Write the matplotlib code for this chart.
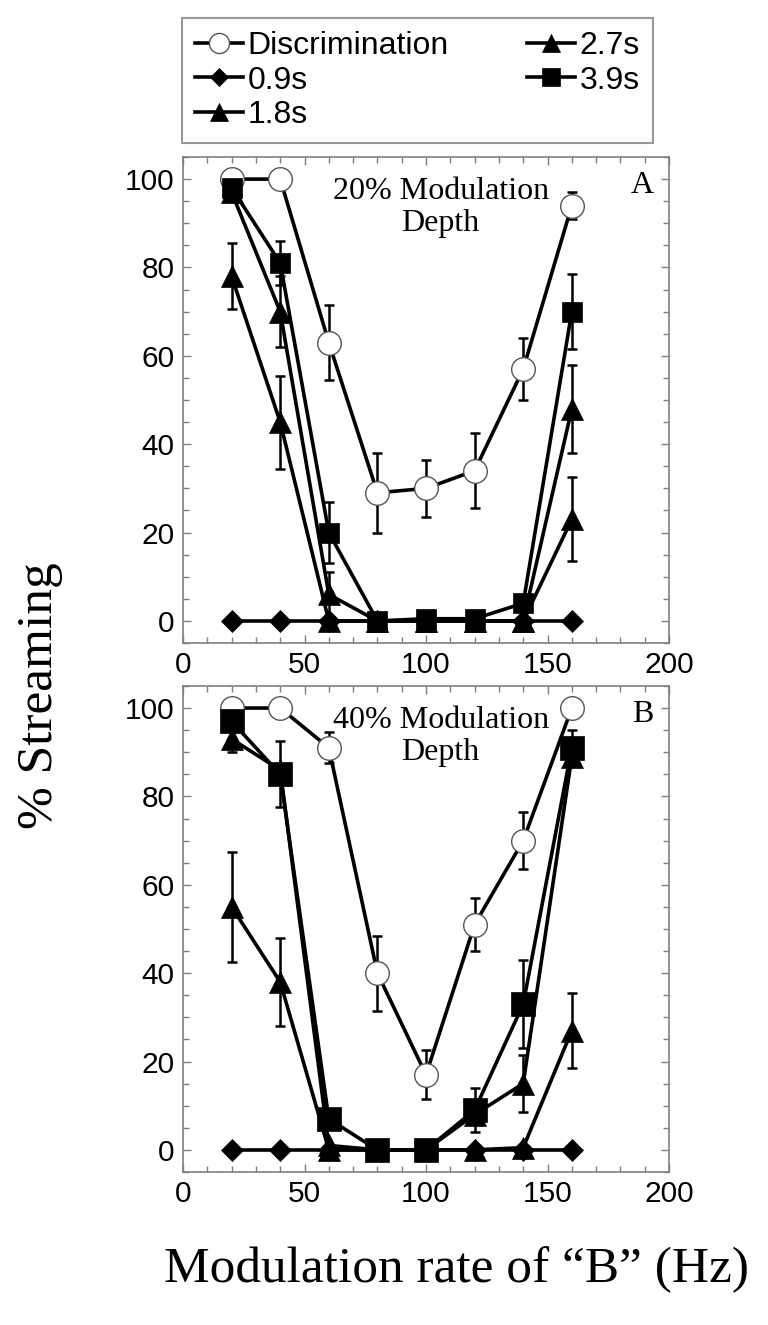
import matplotlib.pyplot as plt
from matplotlib.ticker import MultipleLocator

rates = [20, 40, 60, 80, 100, 120, 140, 160]

# panel A - 20% modulation depth
disc_a = [100, 100, 63, 29, 30, 34, 57, 94]
disc_a_err = [0, 0, 8.5, 9, 6.5, 8.5, 7, 3]
s09_a = [0, 0, 0, 0, 0, 0, 0, 0]
s09_a_err = [0, 0, 0, 0, 0, 0, 0, 0]
s18_a = [78, 45, 0, 0, 0, 0, 0, 23]
s18_a_err = [7.5, 10.5, 0, 0, 0, 0, 0, 9.5]
s27_a = [97, 70, 6, 0, 0, 0, 0, 48]
s27_a_err = [0, 8, 5, 0, 0, 0, 0, 10]
s39_a = [98, 81, 20, 0, 0.5, 0.5, 4, 70]
s39_a_err = [0, 5, 7, 0, 0, 0, 0, 8.5]

# panel B - 40% modulation depth
disc_b = [100, 100, 91, 40, 17, 51, 70, 100]
disc_b_err = [0, 0, 3.5, 8.5, 5.5, 6, 6.5, 0]
s09_b = [0, 0, 0, 0, 0, 0, 0, 0]
s09_b_err = [0, 0, 0, 0, 0, 0, 0, 0]
s18_b = [55, 38, 0, 0, 0, 0, 0.5, 27]
s18_b_err = [12.5, 10, 0, 0, 0, 0, 0, 8.5]
s27_b = [93, 86, 1, 0, 0, 8, 15, 89]
s27_b_err = [3, 0, 0, 0, 0, 0, 6.5, 0]
s39_b = [97, 85, 7, 0, 0, 9, 33, 91]
s39_b_err = [0, 7.5, 0, 0, 0, 5, 10, 4]

labels = ['Discrimination', '0.9s', '1.8s', '2.7s', '3.9s']

SANS = 'Liberation Sans'
SERIF = 'Liberation Serif'
GRAY = '#7f7f7f'

styles = [
    dict(marker='o', ms=17, mfc='white', mec='#555555', mew=1.0),
    dict(marker='D', ms=11, mfc='black', mec='black', mew=0.5),
    dict(marker='^', ms=16, mfc='black', mec='black', mew=0.5),
    dict(marker='^', ms=16, mfc='black', mec='black', mew=0.5),
    dict(marker='s', ms=15, mfc='black', mec='black', mew=0.5),
]

fig = plt.figure(figsize=(7.68, 13.25), dpi=100)
ax_a = fig.add_axes([0.2383, 0.5147, 0.6328, 0.3668])
ax_b = fig.add_axes([0.2383, 0.1155, 0.6328, 0.3668])


def draw_panel(ax, series, depth, tag, sq_size):
    handles = []
    for i, (vals, errs) in enumerate(series):
        st = dict(styles[i])
        if st['marker'] == 's':
            st['ms'] = sq_size
        xs = [x for x, e in zip(rates, errs) if e > 0]
        ys = [v for v, e in zip(vals, errs) if e > 0]
        es = [e for e in errs if e > 0]
        if xs:
            ax.errorbar(xs, ys, yerr=es, fmt='none', ecolor='black',
                        elinewidth=1.8, capsize=3.3, capthick=1.8, zorder=1)
        h, = ax.plot(rates, vals, color='black', lw=2.6, zorder=2 + i,
                     clip_on=False, **st)
        handles.append(h)

    ax.set_xlim(0, 200)
    ax.set_ylim(-5, 105)
    ax.xaxis.set_major_locator(MultipleLocator(50))
    ax.xaxis.set_minor_locator(MultipleLocator(10))
    ax.yaxis.set_major_locator(MultipleLocator(20))
    ax.yaxis.set_minor_locator(MultipleLocator(5))
    ax.tick_params(which='both', direction='in', top=True, right=True,
                   color=GRAY, width=1)
    ax.tick_params(which='major', length=6, labelsize=21.5, pad=6)
    ax.tick_params(which='minor', length=4)
    for lab in ax.get_xticklabels() + ax.get_yticklabels():
        lab.set_family(SANS)
    for sp in ax.spines.values():
        sp.set_color(GRAY)
        sp.set_linewidth(1.2)

    ax.text(106, 93.5, depth + '% Modulation\nDepth', ha='center', va='center',
            family=SERIF, fontsize=23, linespacing=1.15)
    ax.text(189, 98.5, tag, ha='center', va='center', family=SERIF, fontsize=23)
    return handles


hs = draw_panel(ax_a, [(disc_a, disc_a_err), (s09_a, s09_a_err), (s18_a, s18_a_err),
                       (s27_a, s27_a_err), (s39_a, s39_a_err)], '20', 'A', 15)
draw_panel(ax_b, [(disc_b, disc_b_err), (s09_b, s09_b_err), (s18_b, s18_b_err),
                  (s27_b, s27_b_err), (s39_b, s39_b_err)], '40', 'B', 17)

leg = fig.legend(hs, labels, loc='lower left', ncol=2, mode='expand',
                 bbox_to_anchor=(0.237, 0.892, 0.613, 0.093),
                 prop=dict(family=SANS, size=23), handlelength=1.5,
                 handletextpad=0.15, labelspacing=0.15, borderpad=0.4,
                 columnspacing=1.0, fancybox=False, markerscale=0.85,
                 borderaxespad=0)
leg.get_frame().set_edgecolor(GRAY)
leg.get_frame().set_linewidth(1.5)

fig.text(0.052, 0.4747, '% Streaming', rotation=90, ha='center', va='center',
         family=SERIF, fontsize=37)
fig.text(0.594, 0.0415, 'Modulation rate of \u201cB\u201d (Hz)', ha='center',
         va='center', family=SERIF, fontsize=37)

fig.savefig('out.png', dpi=100)
